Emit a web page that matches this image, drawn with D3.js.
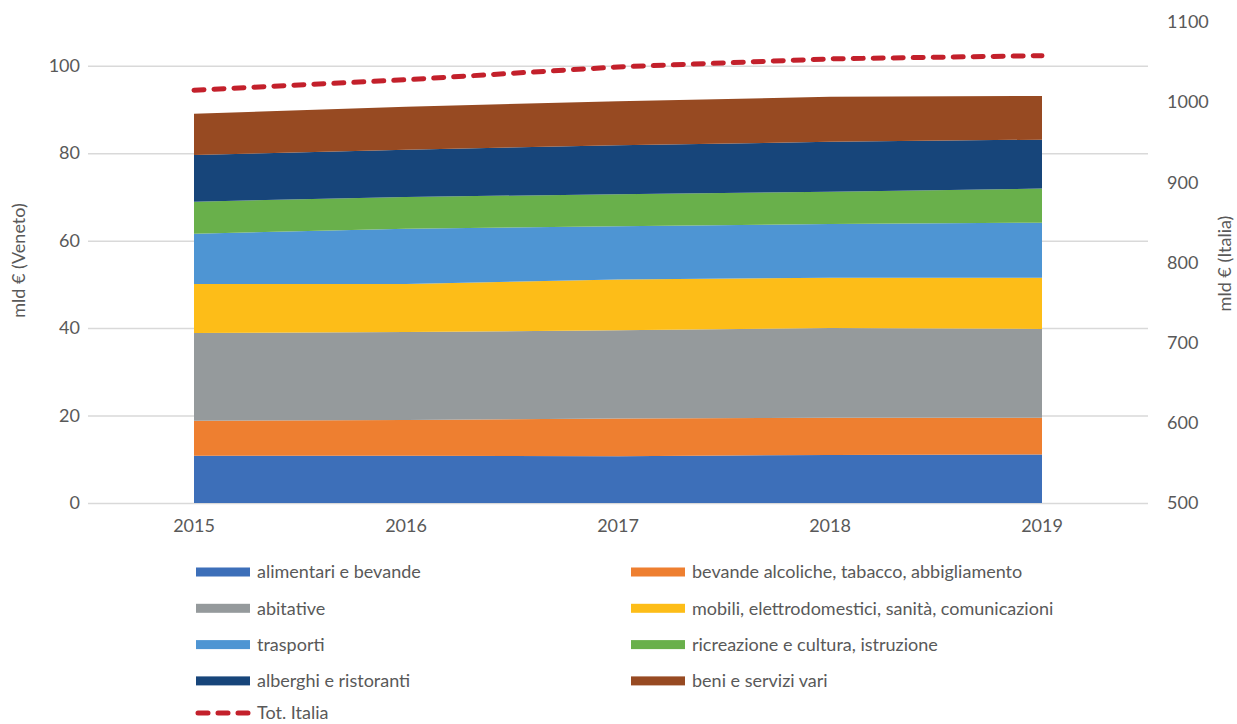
<!DOCTYPE html>
<html>
<head>
<meta charset="utf-8">
<script src="https://cdn.jsdelivr.net/npm/d3@7"></script>
<style>
  body { margin: 0; background: #fff; }
  svg text { font-family: Lato, "Open Sans", sans-serif; fill: #595959; }
</style>
</head>
<body>
<svg id="chart" width="1237" height="724"></svg>
<script>
// Household consumption by spending category, Veneto (left axis) and total Italy (right axis)
const years = ["2015", "2016", "2017", "2018", "2019"];

const categories = [
  "alimentari e bevande",
  "bevande alcoliche, tabacco, abbigliamento",
  "abitative",
  "mobili, elettrodomestici, sanità, comunicazioni",
  "trasporti",
  "ricreazione e cultura, istruzione",
  "alberghi e ristoranti",
  "beni e servizi vari"
];

// mld € (Veneto), one array per category, ordered by year
const alimentari  = [10.8, 10.8, 10.7, 11.0, 11.1];
const bevandeAlc  = [8.0, 8.2, 8.6, 8.5, 8.4];
const abitative   = [20.1, 20.1, 20.2, 20.5, 20.3];
const mobili      = [11.2, 11.0, 11.6, 11.5, 11.7];
const trasporti   = [11.5, 12.6, 12.2, 12.3, 12.6];
const ricreazione = [7.3, 7.3, 7.3, 7.4, 7.8];
const alberghi    = [10.7, 10.8, 11.2, 11.4, 11.2];
const beniVari    = [9.4, 9.8, 10.1, 10.3, 10.0];

// mld € (Italia)
const totItalia = [1015, 1028, 1044, 1054, 1058];

const leftTicks = [0, 20, 40, 60, 80, 100];
const rightTicks = [500, 600, 700, 800, 900, 1000, 1100];

const colors = ["#3d6fb9", "#ee7f30", "#959a9c", "#fdbd18", "#4e95d3", "#69b04b", "#17457a", "#974a22"];
const lineColor = "#c3202b";

const series = [alimentari, bevandeAlc, abitative, mobili, trasporti, ricreazione, alberghi, beniVari];
const table = years.map((y, i) => {
  const row = { year: y };
  categories.forEach((c, k) => { row[c] = series[k][i]; });
  return row;
});

const svg = d3.select("#chart");
const margin = { left: 88, right: 89, top: 22, bottom: 221 };
const W = 1237, H = 724;
const plotL = margin.left, plotR = W - margin.right;
const plotT = margin.top, plotB = H - margin.bottom;
const fs = "18px";

const x = d3.scaleBand().domain(years).range([plotL, plotR]).padding(0);
const xc = d => x(d) + x.bandwidth() / 2;
const yL = d3.scaleLinear().domain([0, 110]).range([plotB, plotT]);
const yR = d3.scaleLinear().domain([500, 1100]).range([plotB, plotT]);

// gridlines
svg.append("g")
  .attr("transform", `translate(${plotL},0)`)
  .call(d3.axisLeft(yL).tickValues(leftTicks).tickSize(-(plotR - plotL)).tickFormat(""))
  .call(g => g.select(".domain").remove())
  .call(g => g.selectAll("line").attr("stroke", "#d9d9d9").attr("stroke-width", 1.5));

// stacked areas
const stack = d3.stack().keys(categories);
const layers = stack(table);
const area = d3.area()
  .x(d => xc(d.data.year))
  .y0(d => yL(d[0]))
  .y1(d => yL(d[1]));

svg.append("g").selectAll("path")
  .data(layers)
  .join("path")
  .attr("d", area)
  .attr("fill", (d, i) => colors[i]);

// total Italy dashed line on the right axis
const line = d3.line()
  .x((d, i) => xc(years[i]))
  .y(d => yR(d));

svg.append("path")
  .datum(totItalia)
  .attr("d", line)
  .attr("fill", "none")
  .attr("stroke", lineColor)
  .attr("stroke-width", 5)
  .attr("stroke-linecap", "round")
  .attr("stroke-dasharray", "10,10");

// axis labels
const styleTicks = g => g.selectAll("text")
  .style("font-size", fs).style("fill", "#595959").style("font-family", "Lato, sans-serif");

const axL = svg.append("g")
  .attr("transform", `translate(${plotL},0)`)
  .call(d3.axisLeft(yL).tickValues(leftTicks).tickSize(0).tickPadding(8));
axL.select(".domain").remove();
styleTicks(axL);

const axR = svg.append("g")
  .attr("transform", `translate(${plotR},0)`)
  .call(d3.axisRight(yR).tickValues(rightTicks).tickSize(0).tickPadding(19).tickFormat(d3.format("d")));
axR.select(".domain").remove();
styleTicks(axR);

const axB = svg.append("g")
  .attr("transform", `translate(0,${plotB})`)
  .call(d3.axisBottom(x).tickSize(0).tickPadding(16));
axB.select(".domain").remove();
styleTicks(axB);

// axis titles
svg.append("text")
  .attr("transform", `translate(25,${(plotT + plotB) / 2 - 2}) rotate(-90)`)
  .attr("text-anchor", "middle")
  .style("font-size", fs)
  .text("mld € (Veneto)");

svg.append("text")
  .attr("transform", `translate(1231,${(plotT + plotB) / 2 + 1}) rotate(-90)`)
  .attr("text-anchor", "middle")
  .style("font-size", fs)
  .text("mld € (Italia)");

// legend
const legendItems = [
  { label: categories[0], color: colors[0], col: 0, row: 0 },
  { label: categories[1], color: colors[1], col: 1, row: 0 },
  { label: categories[2], color: colors[2], col: 0, row: 1 },
  { label: categories[3], color: colors[3], col: 1, row: 1 },
  { label: categories[4], color: colors[4], col: 0, row: 2 },
  { label: categories[5], color: colors[5], col: 1, row: 2 },
  { label: categories[6], color: colors[6], col: 0, row: 3 },
  { label: categories[7], color: colors[7], col: 1, row: 3 }
];
const colX = [196, 631];
const rowY = r => 572 + r * 36.3;

const lg = svg.append("g");
legendItems.forEach(it => {
  const gx = colX[it.col], gy = rowY(it.row);
  lg.append("rect").attr("x", gx).attr("y", gy - 4.5).attr("width", 54).attr("height", 9).attr("fill", it.color);
  lg.append("text").attr("x", gx + 61).attr("y", gy).attr("dy", "0.35em").style("font-size", fs).text(it.label);
});
const ly = 713;
lg.append("line")
  .attr("x1", 198).attr("x2", 249).attr("y1", ly).attr("y2", ly)
  .attr("stroke", lineColor).attr("stroke-width", 5)
  .attr("stroke-linecap", "round").attr("stroke-dasharray", "10,10");
lg.append("text").attr("x", 257).attr("y", ly).attr("dy", "0.35em").style("font-size", fs).text("Tot. Italia");
</script>
</body>
</html>
